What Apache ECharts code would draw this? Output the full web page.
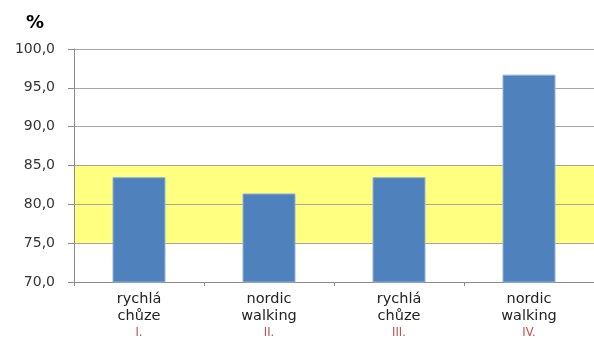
<!DOCTYPE html>
<html>
<head>
<meta charset="utf-8">
<script src="https://cdn.jsdelivr.net/npm/echarts@6/dist/echarts.min.js"></script>
<style>
  html, body { margin: 0; padding: 0; background: #fff; }
  #chart { width: 594px; height: 342px; }
</style>
</head>
<body>
<div id="chart"></div>
<script>
// kategorie a hodnoty
const activities = ['rychlá\nchůze', 'nordic\nwalking', 'rychlá\nchůze', 'nordic\nwalking'];
const phases = ['I.', 'II.', 'III.', 'IV.'];
const values = [83.5, 81.4, 83.5, 96.7];
// žluté pásmo (norma) 75–85 přes splitArea

const chart = echarts.init(document.getElementById('chart'));

const option = {
  animation: false,
  title: {
    text: '%',
    left: 21,
    top: 9,
    textStyle: {
      fontFamily: 'DejaVu Sans',
      fontSize: 18,
      fontWeight: 'bold',
      color: '#000'
    }
  },
  grid: {
    left: 74,
    right: -2,
    top: 49,
    bottom: 58
  },
  xAxis: {
    type: 'category',
    data: activities.map((a, i) => a + '\n{r|' + phases[i] + '}'),
    axisLine: { lineStyle: { color: '#8c8c8c' } },
    axisTick: { show: true, length: 4, lineStyle: { color: '#8c8c8c' } },
    axisLabel: {
      margin: 8,
      fontFamily: 'DejaVu Sans',
      fontSize: 14.5,
      lineHeight: 17.5,
      color: '#222',
      rich: {
        r: { fontSize: 11.5, color: '#c0504d', fontFamily: 'DejaVu Sans', lineHeight: 17 }
      }
    }
  },
  yAxis: {
    type: 'value',
    min: 70,
    max: 100,
    interval: 5,
    axisLine: { show: true, lineStyle: { color: '#8c8c8c' } },
    axisTick: { show: true, length: 6, lineStyle: { color: '#8c8c8c' } },
    axisLabel: {
      margin: 19,
      fontFamily: 'DejaVu Sans',
      fontSize: 14,
      color: '#333',
      formatter: v => v.toFixed(1).replace('.', ',')
    },
    splitLine: { lineStyle: { color: '#a6a6a6', width: 1 } },
    splitArea: {
      show: true,
      areaStyle: {
        color: ['#ffffff', '#ffff80', '#ffff80', '#ffffff', '#ffffff', '#ffffff']
      }
    }
  },
  series: [
    {
      type: 'bar',
      data: values,
      barWidth: 53,
      itemStyle: {
        color: '#4f81bd',
        borderColor: '#95b3d7',
        borderWidth: 1
      }
    }
  ]
};

chart.setOption(option);
</script>
</body>
</html>
